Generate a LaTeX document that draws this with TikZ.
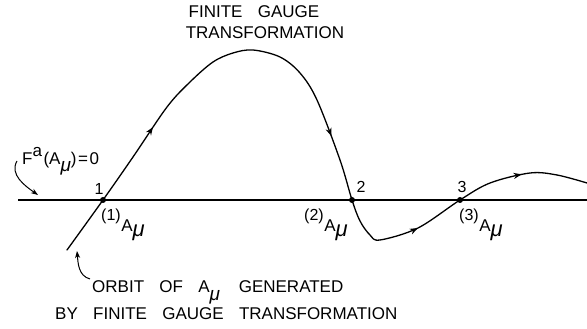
\documentclass[tikz,border=0pt]{standalone}
\usepackage{fontspec}
\setmainfont{Liberation Sans}
\usetikzlibrary{arrows.meta,decorations.markings}
\newcommand{\wsp}{\hspace{0.9em}}
\newcommand{\lbl}{\fontsize{17}{20}\selectfont}
\newcommand{\dig}{\fontsize{16}{18}\selectfont}
\newcommand{\bigmu}[1]{{\fontsize{#1}{#1}\selectfont\itshape μ}}
\newcommand{\Alab}[1]{\raisebox{0.68em}{\fontsize{16}{16}\selectfont(#1)}\hspace{0.5pt}A\raisebox{-0.27em}{\bigmu{22}}}
\begin{document}
\begin{tikzpicture}[x=1pt,y=1pt,
  curve/.style={line width=1.3pt,line cap=round,line join=round},
  arrowtip/.style={decorate,decoration={markings,
     mark=at position 150pt with {\arrow{Stealth[length=8pt,width=6pt,inset=2.5pt]}},
     mark=at position 406pt with {\arrow{Stealth[length=8pt,width=6pt,inset=2.5pt]}},
     mark=at position 565pt with {\arrow{Stealth[length=8pt,width=6pt,inset=2.5pt]}},
     mark=at position 683pt with {\arrow{Stealth[length=8pt,width=6pt,inset=2.5pt]}}}},
  dotnode/.style={circle,fill=black,inner sep=0pt,minimum size=6pt},
  txt/.style={font=\lbl,inner sep=0pt},
  pointer/.style={line width=1pt,-{Stealth[length=7pt,width=5pt,inset=2pt]}}]
\useasboundingbox (0,0) rectangle (587,329);
% points
\coordinate (ls) at (18,129);
\coordinate (le) at (587,129);
\coordinate (s) at (67,79);
\coordinate (p1) at (103,129);
\coordinate (peak) at (253,279);
\coordinate (p2) at (352,129);
\coordinate (m) at (380,89);
\coordinate (p3) at (460,129);
\coordinate (q) at (530,156);
\coordinate (e) at (587,146);
% horizontal line
\draw[line width=1.2pt] (ls) -- (le);
% orbit curve
\draw[curve,postaction={arrowtip}] plot[smooth,tension=0.55] coordinates {
  (s) (p1) (133,172) (167,222) (190,247) (213,267) (233,276) (peak)
  (280,272) (300,256) (317,229) (340,169) (p2) (360,108) (370,94) (m)
  (418,101) (p3) (490,146) (q) (557,154) (e)};
% dots
\node[dotnode] (d1) at (p1) {};
\node[dotnode] (d2) at (p2) {};
\node[dotnode] (d3) at (p3) {};
% digit labels
\node[font=\dig,inner sep=0pt,anchor=base] (n1) at (99,134) {1};
\node[font=\dig,inner sep=0pt,anchor=base] (n2) at (361,136) {2};
\node[font=\dig,inner sep=0pt,anchor=base] (n3) at (462,136) {3};
% A_mu labels
\node[txt,anchor=base west] (a1) at (101,97) {\Alab{1}};
\node[txt,anchor=base west] (a2) at (304,97) {\Alab{2}};
\node[txt,anchor=base west] (a3) at (459,97) {\Alab{3}};
% F^a label
\node[txt,anchor=base west] (fa) at (22,164) {F\raisebox{0.5em}{a}\hspace{1.5pt}(A\raisebox{-0.38em}{\bigmu{19}})\hspace{1.5pt}=\hspace{1.5pt}0};
\coordinate (fs) at (17,168);
\coordinate (ft) at (38,134);
\draw[pointer] (fs) to[out=-120,in=145] (ft);
% top label
\node[txt,anchor=base] (t1) at (254,311) {FINITE\wsp GAUGE};
\node[txt,anchor=base] (t2) at (265,290) {TRANSFORMATION};
% bottom label
\node[txt,anchor=base west] (b1) at (92,36) {ORBIT\wsp OF\wsp A\raisebox{-0.45em}{\bigmu{19}}\hspace{1.1em}GENERATED};
\node[txt,anchor=base west] (b2) at (55,9) {BY\wsp FINITE\wsp GAUGE\wsp TRANSFORMATION};
\coordinate (os) at (90,50);
\coordinate (ot) at (77,78);
\draw[pointer] (os) to[out=165,in=-85] (ot);
\end{tikzpicture}
\end{document}
